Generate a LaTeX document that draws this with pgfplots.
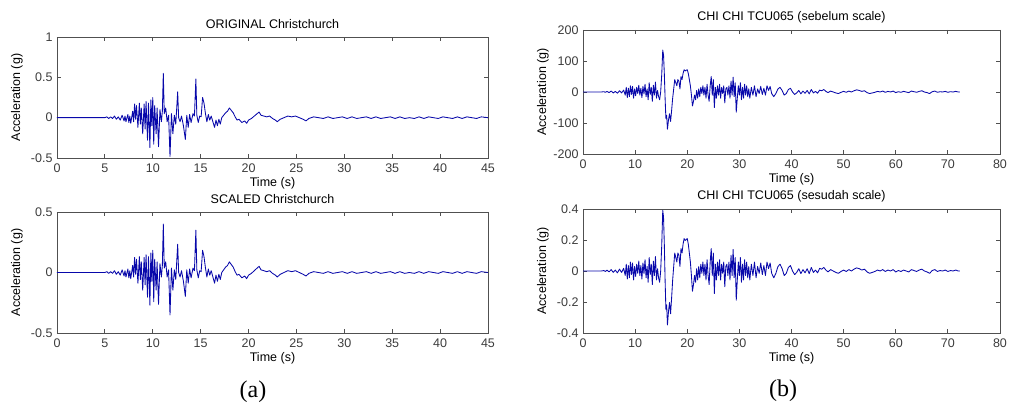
\documentclass[border=0pt]{standalone}
\usepackage{pgfplots}
\usepackage{pgfplotstable}
\usepackage{fontspec}
\pgfplotsset{compat=1.18}
\setmainfont{Liberation Sans}
\newfontfamily\capfont{Liberation Serif}
\definecolor{tracecol}{RGB}{8,8,170}
\definecolor{axgray}{RGB}{80,80,80}
\definecolor{txtgray}{RGB}{60,60,60}

\pgfplotstableread{
t o s
0 0 0
5.0 0 0
5.2 0.01 0.007
5.4 -0.01 -0.007
5.6 0.01 0.007
5.8 -0.01 -0.007
6.0 0.02 0.015
6.2 -0.02 -0.015
6.4 0.01 0.007
6.6 -0.03 -0.022
6.8 0.03 0.022
7.0 -0.04 -0.029
7.1 0.02 0.015
7.2 -0.05 -0.037
7.4 0.04 0.029
7.5 -0.06 -0.044
7.6 0.02 0.015
7.7 -0.07 -0.051
7.9 0.08 0.058
8.0 -0.05 -0.037
8.1 0.17 0.124
8.2 -0.02 -0.015
8.3 0.15 0.110
8.45 -0.12 -0.088
8.6 0.18 0.131
8.7 -0.08 -0.058
8.8 0.12 0.088
8.95 -0.20 -0.146
9.1 0.17 0.124
9.2 -0.14 -0.102
9.3 0.20 0.146
9.45 -0.28 -0.204
9.55 0.18 0.131
9.7 -0.37 -0.270
9.8 0.22 0.161
9.9 -0.10 -0.073
10.0 0.25 0.183
10.1 -0.33 -0.241
10.2 0.15 0.110
10.35 -0.20 -0.146
10.45 0.12 0.088
10.6 -0.36 -0.263
10.75 0.10 0.073
10.9 -0.05 -0.037
11.0 0.08 0.058
11.1 0.55 0.400
11.2 0.05 0.037
11.35 0.12 0.088
11.5 -0.05 -0.037
11.65 0.03 0.022
11.8 -0.48 -0.350
11.95 0.05 0.037
12.1 -0.20 -0.146
12.25 0.03 0.022
12.4 -0.08 -0.058
12.6 0.32 0.234
12.7 0.00 0.000
12.85 -0.05 -0.037
13.0 0.02 0.015
13.2 -0.10 -0.073
13.4 -0.27 -0.197
13.55 0.03 0.022
13.7 -0.12 -0.088
13.85 0.04 0.029
14.0 -0.06 -0.044
14.2 0.05 0.037
14.35 0.02 0.015
14.5 0.48 0.350
14.6 0.03 0.022
14.75 -0.06 -0.044
14.9 0.02 0.015
15.05 0.01 0.007
15.2 0.25 0.183
15.35 0.18 0.131
15.5 0.05 0.037
15.65 -0.05 -0.037
15.8 0.04 0.029
15.95 -0.03 -0.022
16.1 0.02 0.015
16.3 -0.06 -0.044
16.45 -0.12 -0.088
16.6 -0.03 -0.022
16.75 -0.10 -0.073
16.9 -0.02 -0.015
17.05 -0.08 -0.058
17.2 0.00 0.000
17.4 0.03 0.022
17.6 0.06 0.044
17.8 0.08 0.058
18.0 0.12 0.088
18.2 0.09 0.066
18.4 0.06 0.044
18.6 0.01 0.007
18.8 -0.03 -0.022
19.0 -0.02 -0.015
19.3 -0.06 -0.044
19.6 -0.04 -0.029
19.8 -0.07 -0.051
20.0 -0.03 -0.022
20.3 -0.01 -0.007
20.6 0.02 0.015
20.9 0.05 0.037
21.1 0.07 0.051
21.3 0.03 0.022
21.6 0.02 0.015
21.9 0.01 0.007
22.2 0.02 0.015
22.5 -0.01 -0.007
22.8 -0.03 -0.022
23.0 -0.05 -0.037
23.3 -0.02 -0.015
23.7 0.00 0.000
24.1 0.02 0.015
24.5 0.01 0.007
24.9 0.02 0.015
25.3 0.00 0.000
25.7 -0.02 -0.015
26.0 -0.04 -0.029
26.3 -0.01 -0.007
26.8 0.01 0.007
27.3 0.00 0.000
27.8 -0.01 -0.007
28.3 0.01 0.007
28.8 -0.01 -0.007
29.3 0.00 0.000
29.8 0.01 0.007
30.3 -0.01 -0.007
30.8 0.01 0.007
31.3 -0.01 -0.007
31.8 0.00 0.000
32.3 0.01 0.007
32.8 -0.01 -0.007
33.3 0.01 0.007
33.8 -0.01 -0.007
34.3 0.00 0.000
34.8 0.01 0.007
35.3 -0.01 -0.007
35.8 0.01 0.007
36.3 -0.01 -0.007
36.8 0.00 0.000
37.3 -0.01 -0.007
37.8 0.01 0.007
38.3 -0.01 -0.007
38.8 0.01 0.007
39.3 0.00 0.000
39.8 -0.01 -0.007
40.3 0.01 0.007
40.8 0.00 0.000
41.3 -0.01 -0.007
41.8 0.01 0.007
42.3 -0.01 -0.007
42.8 0.01 0.007
43.3 0.00 0.000
43.8 -0.01 -0.007
44.3 0.01 0.007
45.0 0.00 0.000
}\christ

\pgfplotstableread{
t v s
0 0 0
3.5 0 0
4.0 1 0.003
4.3 -1 -0.003
4.6 2 0.006
5.0 -2 -0.006
5.4 3 0.009
5.8 -3 -0.009
6.2 2 0.006
6.6 -4 -0.012
7.0 4 0.012
7.4 -3 -0.009
7.8 6 0.017
8.1 -10 -0.029
8.3 15 0.044
8.5 -18 -0.052
8.7 12 0.035
8.9 -15 -0.044
9.1 20 0.058
9.3 -8 -0.023
9.5 18 0.052
9.7 -20 -0.058
9.9 10 0.029
10.1 -12 -0.035
10.3 15 0.044
10.5 -5 -0.015
10.7 22 0.064
10.9 -10 -0.029
11.1 12 0.035
11.3 -18 -0.052
11.5 18 0.052
11.7 -6 -0.017
11.9 25 0.073
12.1 -15 -0.044
12.3 10 0.029
12.5 -25 -0.073
12.7 30 0.087
12.9 -8 -0.023
13.1 15 0.044
13.3 -30 -0.087
13.5 22 0.064
13.7 -10 -0.029
13.9 32 0.093
14.1 -20 -0.058
14.3 5 0.015
14.5 -15 -0.044
14.7 -25 -0.073
14.9 0 0
15.1 55 0.160
15.3 135 0.392
15.45 120 0.348
15.6 60 0.174
15.75 -20 -0.058
15.9 -85 -0.247
16.05 -75 -0.218
16.2 -120 -0.348
16.4 -90 -0.261
16.6 -70 -0.203
16.8 -95 -0.276
17.0 -60 -0.174
17.2 -20 -0.058
17.4 10 0.029
17.6 40 0.116
17.8 30 0.087
18.0 20 0.058
18.2 40 0.116
18.4 35 0.102
18.6 10 0.029
18.8 50 0.145
19.0 40 0.116
19.2 60 0.174
19.4 72 0.209
19.6 68 0.197
19.8 70 0.203
20.0 72 0.209
20.2 60 0.174
20.4 40 0.116
20.6 20 0.058
20.8 -10 -0.029
21.0 -45 -0.131
21.2 -30 -0.087
21.4 -10 -0.029
21.6 -25 -0.073
21.8 5 0.015
22.0 -20 -0.058
22.2 10 0.029
22.4 -15 -0.044
22.6 15 0.044
22.8 -5 -0.015
23.0 20 0.058
23.2 -10 -0.029
23.4 15 0.044
23.6 -20 -0.058
23.8 25 0.073
24.0 -10 -0.029
24.2 -30 -0.087
24.4 20 0.058
24.6 50 0.145
24.8 -10 -0.029
25.0 40 0.116
25.2 -50 -0.145
25.4 15 0.044
25.6 -20 -0.058
25.8 20 0.058
26.0 -10 -0.029
26.2 25 0.073
26.4 -20 -0.058
26.6 15 0.044
26.8 -5 -0.015
27.0 20 0.058
27.2 -35 -0.102
27.4 10 0.029
27.6 15 0.044
27.8 -10 -0.029
28.0 20 0.058
28.2 -20 -0.058
28.4 35 0.102
28.6 -10 -0.029
28.8 48 0.139
29.0 -15 -0.044
29.2 30 0.087
29.4 -65 -0.189
29.6 -20 -0.058
29.8 20 0.058
30.0 -10 -0.029
30.2 30 0.087
30.4 -25 -0.073
30.6 15 0.044
30.8 -20 -0.058
31.0 25 0.073
31.2 -10 -0.029
31.4 20 0.058
31.6 -15 -0.044
31.8 10 0.029
32.0 -20 -0.058
32.3 15 0.044
32.6 -10 -0.029
32.9 20 0.058
33.2 -15 -0.044
33.5 10 0.029
33.8 -5 -0.015
34.1 18 0.052
34.4 -8 -0.023
34.7 12 0.035
35.0 -10 -0.029
35.3 20 0.058
35.6 5 0.015
35.9 18 0.052
36.2 -5 -0.015
36.6 -15 -0.044
37.0 -5 -0.015
37.4 10 0.029
37.8 15 0.044
38.2 5 0.015
38.6 -10 -0.029
39.0 -5 -0.015
39.4 8 0.023
39.8 12 0.035
40.2 0 0
40.6 -8 -0.023
41.0 -3 -0.009
41.4 5 0.015
41.8 -6 -0.017
42.2 3 0.009
42.6 -4 -0.012
43.0 5 0.015
43.4 -6 -0.017
43.8 8 0.023
44.2 -3 -0.009
44.6 2 0.006
45.0 -4 -0.012
45.4 6 0.017
45.8 4 0.012
46.2 8 0.023
46.6 2 0.006
47.0 -2 -0.006
47.5 3 0.009
48.0 0 0
48.5 -3 -0.009
49.0 -5 -0.015
49.5 -1 -0.003
50.0 2 0.006
50.5 -1 -0.003
51.0 3 0.009
51.5 0 0
52.0 4 0.012
52.5 7 0.020
53.0 5 0.015
53.5 2 0.006
54.0 4 0.012
54.5 -2 -0.006
55.0 -5 -0.015
55.5 -3 -0.009
56.0 -1 -0.003
56.5 2 0.006
57.0 0 0
57.5 3 0.009
58.0 -1 -0.003
58.5 2 0.006
59.0 0 0
59.5 3 0.009
60.0 -2 -0.006
60.5 1 0.003
61.0 -1 -0.003
61.5 2 0.006
62.0 0 0
62.5 -2 -0.006
63.0 3 0.009
63.5 1 0.003
64.0 -1 -0.003
64.5 2 0.006
65.0 4 0.012
65.5 0 0
66.0 -2 -0.006
66.5 -5 -0.015
67.0 1 0.003
67.5 3 0.009
68.0 -1 -0.003
68.5 1 0.003
69.0 0 0
69.5 2 0.006
70.0 -1 -0.003
70.5 1 0.003
71.0 0 0
71.5 2 0.006
72.0 0 0
72.3 0 0
}\chichi

\pgfplotsset{
  mat/.style={
    scale only axis,
    anchor=north west,
    axis line style={axgray, line width=0.9pt},
    tick style={axgray, line width=0.8pt},
    tick align=inside,
    tick pos=both,
    major tick length=4pt,
    font=\fontsize{12.5}{14}\selectfont,
    /pgf/number format/assume math mode=true,
    tick label style={text=txtgray},
    label style={text=txtgray},
    title style={text=txtgray},
    xticklabel style={anchor=center, yshift=-10pt},
    yticklabel style={anchor=east, xshift=-1pt},
    every axis x label/.style={at={(rel axis cs:0.5,0)}, yshift=-25pt, anchor=center},
    every axis y label/.style={at={(rel axis cs:0,0.5)}, xshift=-40pt, rotate=90, anchor=center},
    every axis title/.style={at={(rel axis cs:0.5,1)}, yshift=13pt, anchor=center},
    xlabel={Time (s)},
    ylabel={Acceleration (g)},
    /pgf/number format/fixed,
  },
  sig/.style={color=tracecol, line width=0.85pt, line join=round},
}

\begin{document}
\begin{tikzpicture}
\useasboundingbox (0,0) rectangle (1010pt,-412pt);
\begin{axis}[mat, at={(57pt,-37pt)}, width=431pt, height=121pt,
  xmin=0, xmax=45, ymin=-0.5, ymax=1,
  xtick={0,5,...,45}, ytick={-0.5,0,0.5,1},
  title={ORIGINAL Christchurch}]
\addplot[sig] table[x=t, y=o] {\christ};
\end{axis}
\begin{axis}[mat, at={(57pt,-212pt)}, width=431pt, height=121pt,
  xmin=0, xmax=45, ymin=-0.5, ymax=0.5,
  xtick={0,5,...,45}, ytick={-0.5,0,0.5},
  title={SCALED Christchurch}]
\addplot[sig] table[x=t, y=s] {\christ};
\end{axis}
\begin{axis}[mat, at={(583pt,-30pt)}, width=417pt, height=124pt,
  xmin=0, xmax=80, ymin=-200, ymax=200,
  xtick={0,10,...,80}, ytick={-200,-100,0,100,200},
  title={CHI CHI TCU065 (sebelum scale)}]
\addplot[sig] table[x=t, y=v] {\chichi};
\end{axis}
\begin{axis}[mat, at={(583pt,-209pt)}, width=417pt, height=124pt,
  xmin=0, xmax=80, ymin=-0.4, ymax=0.4,
  xtick={0,10,...,80}, ytick={-0.4,-0.2,0,0.2,0.4},
  title={CHI CHI TCU065 (sesudah scale)}]
\addplot[sig] table[x=t, y=s] {\chichi};
\end{axis}
\node[font=\capfont\fontsize{24}{28}\selectfont] at (253pt,-392pt) {(a)};
\node[font=\capfont\fontsize{24}{28}\selectfont] at (783pt,-391pt) {(b)};
\end{tikzpicture}
\end{document}
